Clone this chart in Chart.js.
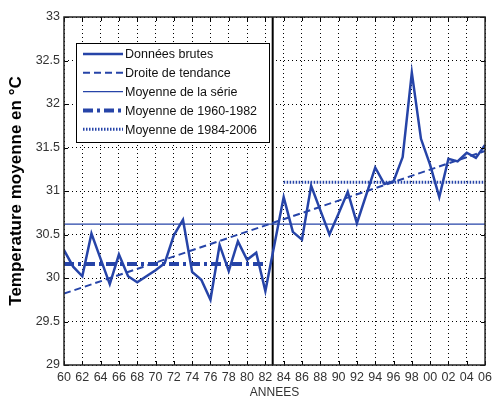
<!DOCTYPE html>
<html>
<head>
<meta charset="utf-8">
<script src="https://cdn.jsdelivr.net/npm/chart.js@4/dist/chart.umd.min.js"></script>
<style>
  html, body { margin: 0; padding: 0; background: #fff; }
  #wrap { width: 497px; height: 397px; }
</style>
</head>
<body>
<div id="wrap"><canvas id="chart" width="497" height="397"></canvas></div>
<script>
// raw yearly data (1983 has no point on the reference curve)
var years = [1960, 1961, 1962, 1963, 1964, 1965, 1966, 1967, 1968, 1969, 1970,
             1971, 1972, 1973, 1974, 1975, 1976, 1977, 1978, 1979, 1980, 1981, 1982,
             1984, 1985, 1986, 1987, 1988, 1989, 1990, 1991, 1992, 1993, 1994, 1995,
             1996, 1997, 1998, 1999, 2000, 2001, 2002, 2003, 2004, 2005, 2006];
var temps = [30.32, 30.13, 30.02, 30.51, 30.22, 29.93, 30.27, 30.02, 29.95, 30.02, 30.09,
             30.17, 30.49, 30.67, 30.07, 29.98, 29.75, 30.38, 30.08, 30.42, 30.21, 30.29, 29.85,
             30.93, 30.53, 30.44, 31.06, 30.78, 30.50, 30.74, 30.99, 30.63, 30.95, 31.27, 31.08,
             31.11, 31.39, 32.36, 31.60, 31.30, 30.93, 31.37, 31.34, 31.44, 31.38, 31.53];

// trend line end values (1960, 2006)
var trendYears = [1960, 2006];
var trendValues = [29.82, 31.46];

var meanAll = 30.62;
var mean1 = 30.16;   // 1960-1982
var mean2 = 31.10;   // 1984-2006
var breakYear = 1982.8;

var yTicks = [29, 29.5, 30, 30.5, 31, 31.5, 32, 32.5, 33];

var blue = 'rgb(38,68,168)';

function pts(xs, ys) {
    return xs.map(function (x, i) { return { x: x, y: ys[i] }; });
}

var datasets = [
    { label: 'Données brutes', data: pts(years, temps), borderColor: blue, borderWidth: 2.5 },
    { label: 'Droite de tendance', data: pts(trendYears, trendValues), borderColor: blue, borderWidth: 2, borderDash: [7, 4] },
    { label: 'Moyenne de la série', data: pts([1960, 2006], [meanAll, meanAll]), borderColor: blue, borderWidth: 1.2 },
    { label: 'Moyenne de 1960-1982', data: pts([1960, 1982], [mean1, mean1]), borderColor: blue, borderWidth: 4, borderDash: [10, 4, 3, 4] },
    { label: 'Moyenne de 1984-2006', data: pts([1984, 2006], [mean2, mean2]), borderColor: blue, borderWidth: 3, borderDash: [1.5, 1.5] },
    { label: '', data: pts([breakYear, breakYear], [29, 33]), borderColor: '#000', borderWidth: 2 }
];
datasets.forEach(function (d) {
    d.pointRadius = 0;
    d.pointHoverRadius = 0;
    d.fill = false;
    d.tension = 0;
});

// box around plot + inward ticks
var boxPlugin = {
    id: 'box',
    afterDatasetsDraw: function (chart) {
        var ctx = chart.ctx, a = chart.chartArea;
        var xs = chart.scales.x, ys = chart.scales.y;
        ctx.save();
        ctx.strokeStyle = '#000';
        ctx.lineWidth = 1;
        ctx.beginPath();
        xs.ticks.forEach(function (t) {
            var px = Math.round(xs.getPixelForValue(t.value)) + 0.5;
            ctx.moveTo(px, a.bottom); ctx.lineTo(px, a.bottom - 4);
            ctx.moveTo(px, a.top); ctx.lineTo(px, a.top + 4);
        });
        ys.ticks.forEach(function (t) {
            var py = Math.round(ys.getPixelForValue(t.value)) + 0.5;
            ctx.moveTo(a.left, py); ctx.lineTo(a.left + 4, py);
            ctx.moveTo(a.right, py); ctx.lineTo(a.right - 4, py);
        });
        ctx.stroke();
        ctx.strokeStyle = '#222';
        ctx.lineWidth = 1.5;
        ctx.strokeRect(a.left, a.top, a.right - a.left, a.bottom - a.top);
        ctx.restore();
    }
};

// legend box inside the plot, top-left
var legendPlugin = {
    id: 'innerLegend',
    afterDraw: function (chart) {
        var ctx = chart.ctx;
        var x0 = 76, y0 = 43, w = 193, h = 99;
        ctx.save();
        ctx.fillStyle = '#fff';
        ctx.fillRect(x0, y0, w, h);
        ctx.strokeStyle = '#000';
        ctx.lineWidth = 1;
        ctx.strokeRect(x0 + 0.5, y0 + 0.5, w, h);
        ctx.font = '12.5px "Liberation Sans", Arial, sans-serif';
        ctx.textBaseline = 'middle';
        for (var i = 0; i < 5; i++) {
            var d = chart.data.datasets[i];
            var y = 54 + i * 18.8;
            ctx.strokeStyle = d.borderColor;
            ctx.lineWidth = d.borderWidth;
            ctx.setLineDash(d.borderDash || []);
            ctx.beginPath();
            ctx.moveTo(83, y);
            ctx.lineTo(123, y);
            ctx.stroke();
            ctx.setLineDash([]);
            ctx.fillStyle = '#111';
            ctx.fillText(d.label, 125, y + 1);
        }
        ctx.restore();
    }
};

new Chart(document.getElementById('chart'), {
    type: 'line',
    data: { datasets: datasets },
    options: {
        responsive: false,
        animation: false,
        layout: { padding: { top: 17, right: 6, left: 0, bottom: 0 } },
        plugins: { legend: { display: false }, tooltip: { enabled: false } },
        scales: {
            x: {
                type: 'linear',
                min: 1960,
                max: 2006,
                afterBuildTicks: function (scale) {
                    var t = [];
                    for (var v = 1960; v <= 2006; v += 2) t.push({ value: v });
                    scale.ticks = t;
                },
                afterFit: function (scale) { scale.height = 32; },
                grid: { color: '#000', lineWidth: 1, drawTicks: false },
                border: { display: false, dash: [1, 3] },
                ticks: {
                    padding: 5,
                    maxRotation: 0,
                    autoSkip: false,
                    color: '#333',
                    font: { family: 'Liberation Sans', size: 12.5 },
                    callback: function (v) { return String(v % 100).padStart(2, '0'); }
                },
                title: {
                    display: true,
                    text: 'ANNEES',
                    color: '#333',
                    font: { family: 'Liberation Sans', size: 12 },
                    padding: { top: 0, bottom: -3 }
                }
            },
            y: {
                min: 29,
                max: 33,
                afterBuildTicks: function (scale) {
                    scale.ticks = yTicks.map(function (v) { return { value: v }; });
                },
                afterFit: function (scale) { scale.width = 64; },
                grid: { color: '#000', lineWidth: 1, drawTicks: false },
                border: { display: false, dash: [1, 3] },
                ticks: {
                    padding: 4,
                    color: '#333',
                    font: { family: 'Liberation Sans', size: 12.5 },
                    callback: function (v) { return String(v); }
                },
                title: {
                    display: true,
                    text: 'Temperature moyenne en °C',
                    color: '#000',
                    font: { family: 'Liberation Sans', size: 17, weight: 'bold' },
                    padding: { top: 6, bottom: 0 }
                }
            }
        }
    },
    plugins: [boxPlugin, legendPlugin]
});
</script>
</body>
</html>
